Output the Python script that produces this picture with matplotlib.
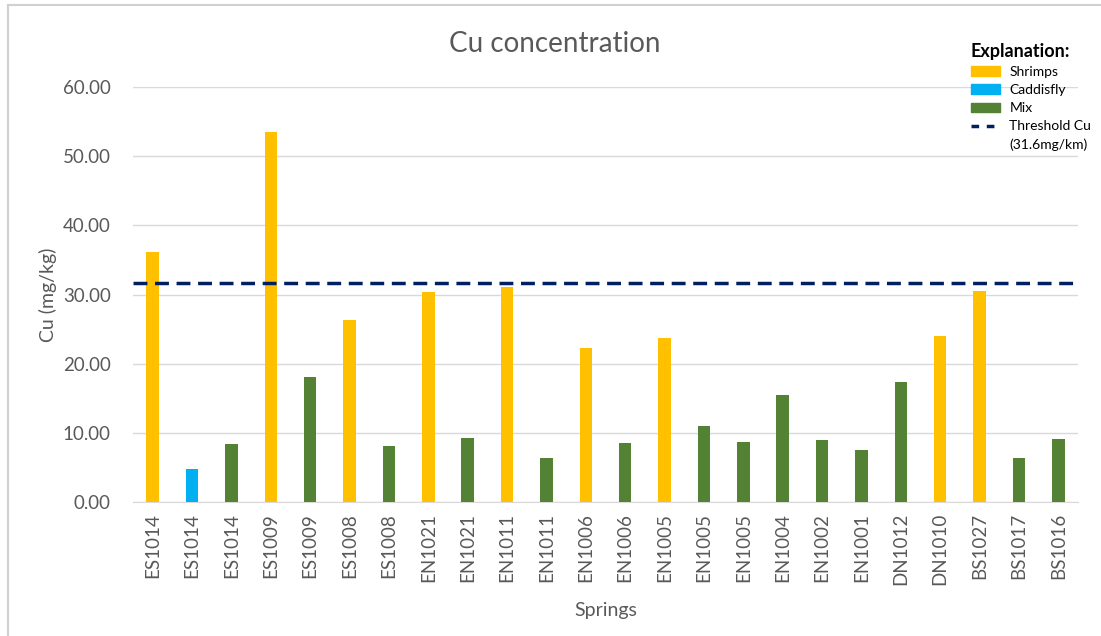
import matplotlib
matplotlib.use("Agg")
import matplotlib.pyplot as plt
from matplotlib.patches import Patch, Rectangle
from matplotlib.lines import Line2D
import numpy as np

# ---- data ----
springs = ["ES1014", "ES1014", "ES1014", "ES1009", "ES1009", "ES1008", "ES1008",
           "EN1021", "EN1021", "EN1011", "EN1011", "EN1006", "EN1006", "EN1005",
           "EN1005", "EN1005", "EN1004", "EN1002", "EN1001", "DN1012", "DN1010",
           "BS1027", "BS1017", "BS1016"]
cu_values = [36.1, 4.8, 8.4, 53.5, 18.1, 26.3, 8.1, 30.3, 9.2, 31.1, 6.4, 22.3,
             8.5, 23.7, 11.0, 8.7, 15.5, 9.0, 7.5, 17.3, 24.0, 30.5, 6.4, 9.1]
sample_type = ["Shrimps", "Caddisfly", "Mix", "Shrimps", "Mix", "Shrimps", "Mix",
               "Shrimps", "Mix", "Shrimps", "Mix", "Shrimps", "Mix", "Shrimps",
               "Mix", "Mix", "Mix", "Mix", "Mix", "Mix", "Shrimps", "Shrimps",
               "Mix", "Mix"]
threshold = 31.6

colors = {"Shrimps": "#FFC000", "Caddisfly": "#00B0F0", "Mix": "#548235"}
text_col = "#595959"
grid_col = "#D9D9D9"

plt.rcParams['font.family'] = ['Lato', 'DejaVu Sans']

fig = plt.figure(figsize=(11.01, 6.36), dpi=100)
fig.patches.append(Rectangle((8 / 1101, -0.01), 1.1, 1 - 5 / 636 + 0.01,
                             transform=fig.transFigure, fill=False,
                             edgecolor="#D0D0D0", lw=1.5))
ax = fig.add_axes([133 / 1101, 1 - 502 / 636, (1078 - 133) / 1101, (502 - 87) / 636])

x = np.arange(len(springs))
ax.bar(x, cu_values, width=0.32, color=[colors[t] for t in sample_type], zorder=3)
ax.axhline(threshold, color="#002060", lw=2.5, ls=(0, (4, 2.2)), zorder=4)

ax.set_xlim(-0.5, len(springs) - 0.5)
ax.set_ylim(0, 60)
ax.set_yticks(np.arange(0, 61, 10))
ax.set_yticklabels([f"{v:.2f}" for v in np.arange(0, 61, 10)])
ax.set_xticks(x)
ax.set_xticklabels(springs, rotation=90)
ax.tick_params(axis="both", length=0, labelsize=13.5, colors=text_col)
ax.tick_params(axis="y", pad=16)
ax.tick_params(axis="x", pad=8)
ax.yaxis.grid(True, color=grid_col, lw=1, zorder=0)
for s in ["top", "right", "left"]:
    ax.spines[s].set_visible(False)
ax.spines["bottom"].set_color(grid_col)

fig.text(555 / 1101, 1 - 44 / 636, "Cu concentration", fontsize=20, color=text_col,
         ha="center", va="center")
ax.set_xlabel("Springs", fontsize=14, color=text_col, labelpad=12)
ax.set_ylabel("Cu (mg/kg)", fontsize=14, color=text_col, labelpad=4)

handles = [Patch(color=colors["Shrimps"], label="Shrimps"),
           Patch(color=colors["Caddisfly"], label="Caddisfly"),
           Patch(color=colors["Mix"], label="Mix"),
           Line2D([], [], color="#002060", lw=2.5, ls=(0, (2.2, 2.2)),
                  label="Threshold Cu"),
           Line2D([], [], color="none", label="(31.6mg/km)")]
leg = fig.legend(handles=handles, loc="upper left", bbox_to_anchor=(958 / 1101, 1 - 30 / 636),
                 frameon=False, fontsize=10, title="Explanation:",
                 handlelength=2.1, handleheight=0.65, labelspacing=0.45,
                 handletextpad=0.7, alignment="left")
leg.get_title().set_fontweight("bold")
leg.get_title().set_fontsize(13)
leg.get_title().set_color("black")

fig.savefig("out.png", dpi=100)
